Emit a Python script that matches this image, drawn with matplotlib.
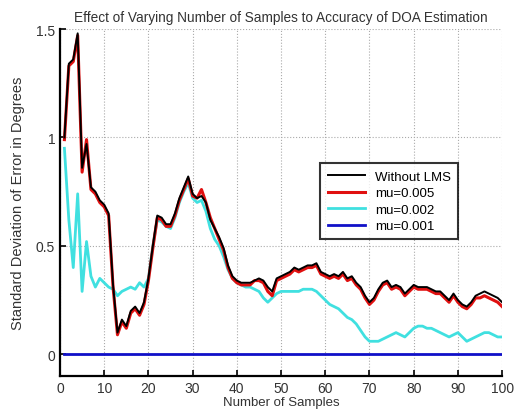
import numpy as np
import matplotlib
matplotlib.use('Agg')
import matplotlib.pyplot as plt

plt.rcParams['font.family'] = ['Liberation Sans', 'DejaVu Sans']

# number of samples on the x axis
samples = np.arange(1, 101)

# standard deviation of DOA error (degrees)
without_lms = [
    1.00, 1.34, 1.36, 1.48, 0.86, 0.97, 0.77, 0.75, 0.71, 0.69,
    0.65, 0.32, 0.10, 0.16, 0.13, 0.20, 0.22, 0.19, 0.24, 0.35,
    0.50, 0.64, 0.63, 0.60, 0.60, 0.65, 0.72, 0.77, 0.82, 0.74,
    0.72, 0.73, 0.70, 0.62, 0.58, 0.54, 0.49, 0.41, 0.36, 0.34,
    0.33, 0.33, 0.33, 0.34, 0.35, 0.34, 0.31, 0.29, 0.35, 0.36,
    0.37, 0.38, 0.40, 0.39, 0.40, 0.41, 0.41, 0.42, 0.38, 0.37,
    0.36, 0.37, 0.36, 0.38, 0.35, 0.36, 0.33, 0.31, 0.27, 0.24,
    0.26, 0.30, 0.33, 0.34, 0.31, 0.32, 0.31, 0.28, 0.30, 0.32,
    0.31, 0.31, 0.31, 0.30, 0.29, 0.29, 0.27, 0.25, 0.28, 0.25,
    0.23, 0.22, 0.24, 0.27, 0.28, 0.29, 0.28, 0.27, 0.26, 0.24,
]
mu_005 = [
    0.99, 1.33, 1.35, 1.47, 0.84, 0.99, 0.76, 0.74, 0.70, 0.68,
    0.64, 0.31, 0.09, 0.15, 0.12, 0.19, 0.21, 0.18, 0.23, 0.34,
    0.49, 0.63, 0.62, 0.59, 0.59, 0.64, 0.71, 0.76, 0.81, 0.73,
    0.72, 0.76, 0.70, 0.63, 0.58, 0.53, 0.48, 0.40, 0.35, 0.33,
    0.32, 0.32, 0.32, 0.34, 0.34, 0.33, 0.29, 0.27, 0.34, 0.35,
    0.36, 0.37, 0.39, 0.38, 0.39, 0.40, 0.40, 0.41, 0.37, 0.36,
    0.35, 0.36, 0.35, 0.37, 0.34, 0.35, 0.32, 0.30, 0.26, 0.23,
    0.25, 0.29, 0.32, 0.33, 0.30, 0.31, 0.30, 0.27, 0.29, 0.31,
    0.30, 0.30, 0.30, 0.29, 0.28, 0.28, 0.26, 0.24, 0.27, 0.24,
    0.22, 0.21, 0.23, 0.26, 0.26, 0.27, 0.26, 0.25, 0.24, 0.22,
]
mu_002 = [
    0.95, 0.62, 0.40, 0.74, 0.29, 0.52, 0.36, 0.31, 0.35, 0.33,
    0.31, 0.30, 0.27, 0.29, 0.30, 0.31, 0.30, 0.33, 0.31, 0.35,
    0.50, 0.62, 0.61, 0.59, 0.58, 0.63, 0.70, 0.75, 0.79, 0.72,
    0.70, 0.71, 0.66, 0.58, 0.53, 0.50, 0.45, 0.39, 0.35, 0.33,
    0.32, 0.31, 0.31, 0.30, 0.29, 0.26, 0.24, 0.26, 0.28, 0.29,
    0.29, 0.29, 0.29, 0.29, 0.30, 0.30, 0.30, 0.29, 0.27, 0.25,
    0.23, 0.22, 0.21, 0.19, 0.17, 0.16, 0.14, 0.11, 0.08, 0.06,
    0.06, 0.06, 0.07, 0.08, 0.09, 0.10, 0.09, 0.08, 0.10, 0.12,
    0.13, 0.13, 0.12, 0.12, 0.11, 0.10, 0.09, 0.08, 0.09, 0.10,
    0.08, 0.06, 0.07, 0.08, 0.09, 0.10, 0.10, 0.09, 0.08, 0.08,
]
mu_001 = [0.0] * 100

fig = plt.figure(figsize=(5.15, 4.14), dpi=100)
ax = fig.add_axes([0.1165, 0.0894, 0.8585, 0.8381])

ax.plot(samples, without_lms, color='black', lw=1.4, zorder=5, label='Without LMS')
ax.plot(samples, mu_005, color='#e01010', lw=2.2, zorder=4, label='mu=0.005')
ax.plot(samples, mu_002, color='#40e0e0', lw=2.0, zorder=3, label='mu=0.002')
ax.plot(samples, mu_001, color='#1010c8', lw=2.0, zorder=3, label='mu=0.001')

ax.set_xlim(0, 100)
ax.set_ylim(-0.1, 1.5)
ax.set_xticks(np.arange(0, 101, 10))
ax.set_yticks([0, 0.5, 1, 1.5])
ax.set_yticklabels(['0', '0.5', '1', '1.5'])
ax.tick_params(direction='in', labelsize=10, length=4, width=1.2, top=False, right=False,
               labelcolor='#333333')
ax.grid(True, linestyle=':', color='#aaaaaa', linewidth=0.8)
for side in ['left', 'bottom']:
    ax.spines[side].set_linewidth(1.6)
for side in ['top', 'right']:
    ax.spines[side].set_visible(False)

ax.set_title('Effect of Varying Number of Samples to Accuracy of DOA Estimation',
             fontsize=9.8, color='#333333', pad=6)
ax.set_xlabel('Number of Samples', fontsize=9.5, color='#333333', labelpad=1)
ax.set_ylabel('Standard Deviation of Error in Degrees', fontsize=10.5, color='#333333', labelpad=8)

leg = ax.legend(loc='upper right', bbox_to_anchor=(0.916, 0.632), fontsize=9.5,
                frameon=True, fancybox=False, edgecolor='black', handlelength=2.8,
                borderpad=0.55, labelspacing=0.32)
leg.get_frame().set_linewidth(1.5)

fig.savefig('out.png', dpi=100)
